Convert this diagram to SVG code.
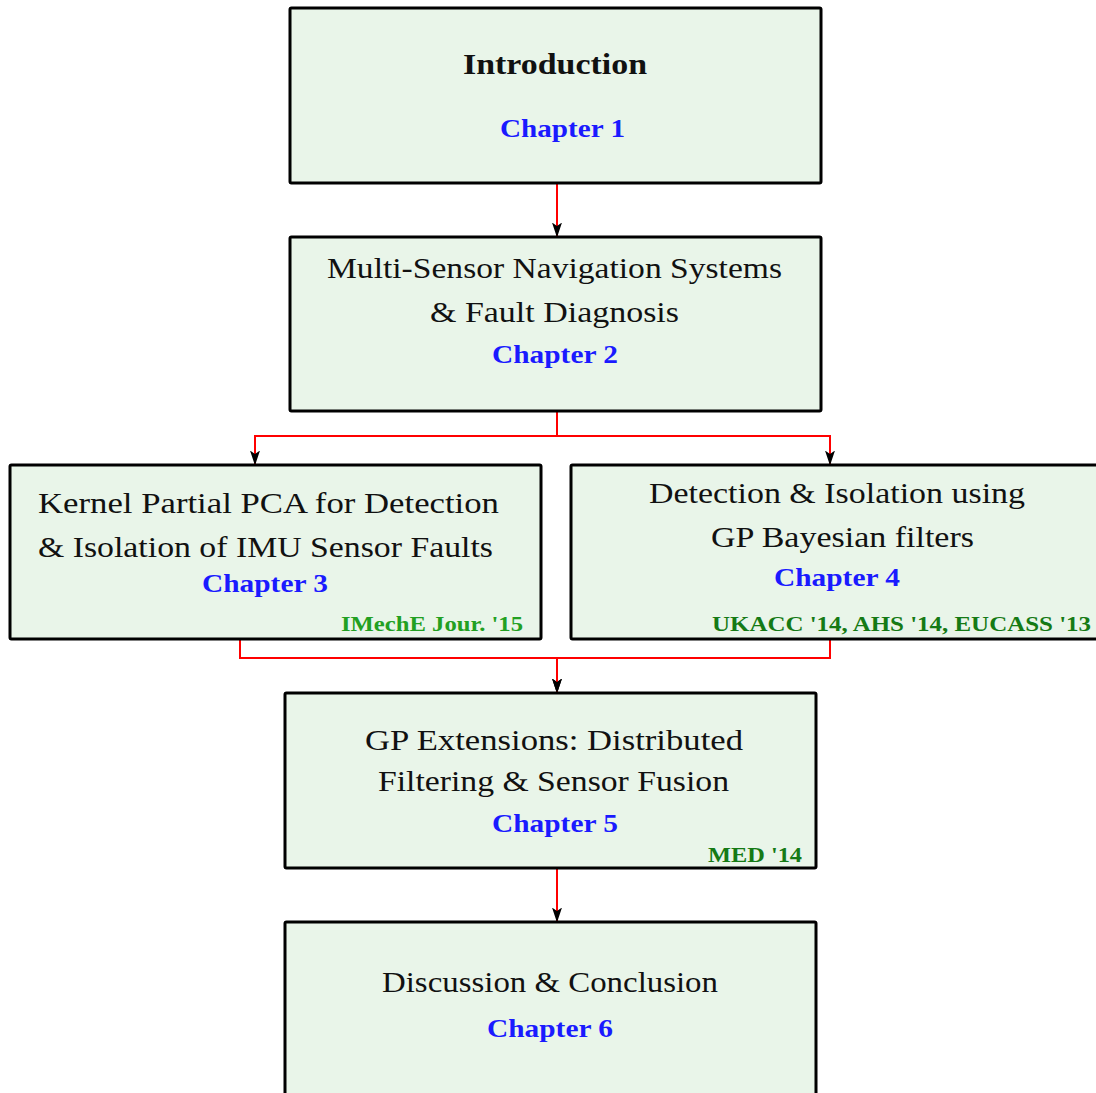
<svg xmlns="http://www.w3.org/2000/svg" width="1096" height="1093" viewBox="0 0 1096 1093">
  <style>
    .box { fill: #e9f5e9; stroke: #000; stroke-width: 3; }
    .title { font-family: "Liberation Serif", "DejaVu Serif", serif; font-size: 29px; fill: #111; text-anchor: middle; }
    .bold { font-weight: bold; }
    .chap { font-family: "Liberation Serif", "DejaVu Serif", serif; font-size: 26px; font-weight: bold; fill: #1a1aff; text-anchor: middle; }
    .pub { font-family: "Liberation Serif", "DejaVu Serif", serif; font-size: 20px; font-weight: bold; fill: #157a15; text-anchor: middle; }
    .pub.light { fill: #22a022; }
    .link { fill: none; stroke: #ff0000; stroke-width: 2; marker-end: url(#head); }
  </style>
  <defs>
    <marker id="head" markerUnits="userSpaceOnUse" markerWidth="15" markerHeight="10" viewBox="0 0 15 10" refX="14.5" refY="5" orient="auto">
      <path d="M0,0 L15,5 L0,10 L3.5,5 Z" fill="#000"/>
    </marker>
  </defs>

  <rect width="1096" height="1093" fill="#fff"/>

  <!-- connectors -->
  <g id="connectors">
    <path class="link" d="M557,183 V237"/>
    <path class="link" d="M557,411 V436 H255 V465"/>
    <path class="link" d="M557,411 V436 H830 V465"/>
    <path class="link" d="M240,639 V658 H557 V693"/>
    <path class="link" d="M830,639 V658 H557 V693"/>
    <path class="link" d="M557,868 V922"/>
  </g>

  <!-- chapter 1 -->
  <g id="ch1">
    <rect class="box" x="290" y="8" width="531" height="175" rx="1.5"/>
    <text class="title bold" x="555" y="74" textLength="184" lengthAdjust="spacingAndGlyphs">Introduction</text>
    <text class="chap" x="562.5" y="137" textLength="125" lengthAdjust="spacingAndGlyphs">Chapter 1</text>
  </g>

  <!-- chapter 2 -->
  <g id="ch2">
    <rect class="box" x="290" y="237" width="531" height="174" rx="1.5"/>
    <text class="title" x="554.5" y="278" textLength="455" lengthAdjust="spacingAndGlyphs">Multi-Sensor Navigation Systems</text>
    <text class="title" x="554.5" y="322" textLength="249" lengthAdjust="spacingAndGlyphs">&amp; Fault Diagnosis</text>
    <text class="chap" x="555" y="363" textLength="126" lengthAdjust="spacingAndGlyphs">Chapter 2</text>
  </g>

  <!-- chapter 3 -->
  <g id="ch3">
    <rect class="box" x="10" y="465" width="531" height="174" rx="1.5"/>
    <text class="title" x="268.5" y="513" textLength="461" lengthAdjust="spacingAndGlyphs">Kernel Partial PCA for Detection</text>
    <text class="title" x="265.5" y="557" textLength="455" lengthAdjust="spacingAndGlyphs">&amp; Isolation of IMU Sensor Faults</text>
    <text class="chap" x="265" y="592" textLength="126" lengthAdjust="spacingAndGlyphs">Chapter 3</text>
    <text class="pub light" x="432" y="631" textLength="182" lengthAdjust="spacingAndGlyphs">IMechE Jour. '15</text>
  </g>

  <!-- chapter 4 -->
  <g id="ch4">
    <rect class="box" x="571" y="465" width="531" height="174" rx="1.5"/>
    <text class="title" x="837" y="503" textLength="376" lengthAdjust="spacingAndGlyphs">Detection &amp; Isolation using</text>
    <text class="title" x="842.5" y="547" textLength="263" lengthAdjust="spacingAndGlyphs">GP Bayesian filters</text>
    <text class="chap" x="837" y="586" textLength="126" lengthAdjust="spacingAndGlyphs">Chapter 4</text>
    <text class="pub" x="901.5" y="631" textLength="379" lengthAdjust="spacingAndGlyphs">UKACC '14, AHS '14, EUCASS '13</text>
  </g>

  <!-- chapter 5 -->
  <g id="ch5">
    <rect class="box" x="285" y="693" width="531" height="175" rx="1.5"/>
    <text class="title" x="554" y="750" textLength="378" lengthAdjust="spacingAndGlyphs">GP Extensions: Distributed</text>
    <text class="title" x="553.5" y="791" textLength="351" lengthAdjust="spacingAndGlyphs">Filtering &amp; Sensor Fusion</text>
    <text class="chap" x="555" y="832" textLength="126" lengthAdjust="spacingAndGlyphs">Chapter 5</text>
    <text class="pub" x="755" y="862" textLength="94" lengthAdjust="spacingAndGlyphs">MED '14</text>
  </g>

  <!-- chapter 6 -->
  <g id="ch6">
    <rect class="box" x="285" y="922" width="531" height="176" rx="1.5"/>
    <text class="title" x="550" y="992" textLength="336" lengthAdjust="spacingAndGlyphs">Discussion &amp; Conclusion</text>
    <text class="chap" x="550" y="1037" textLength="126" lengthAdjust="spacingAndGlyphs">Chapter 6</text>
  </g>
</svg>
